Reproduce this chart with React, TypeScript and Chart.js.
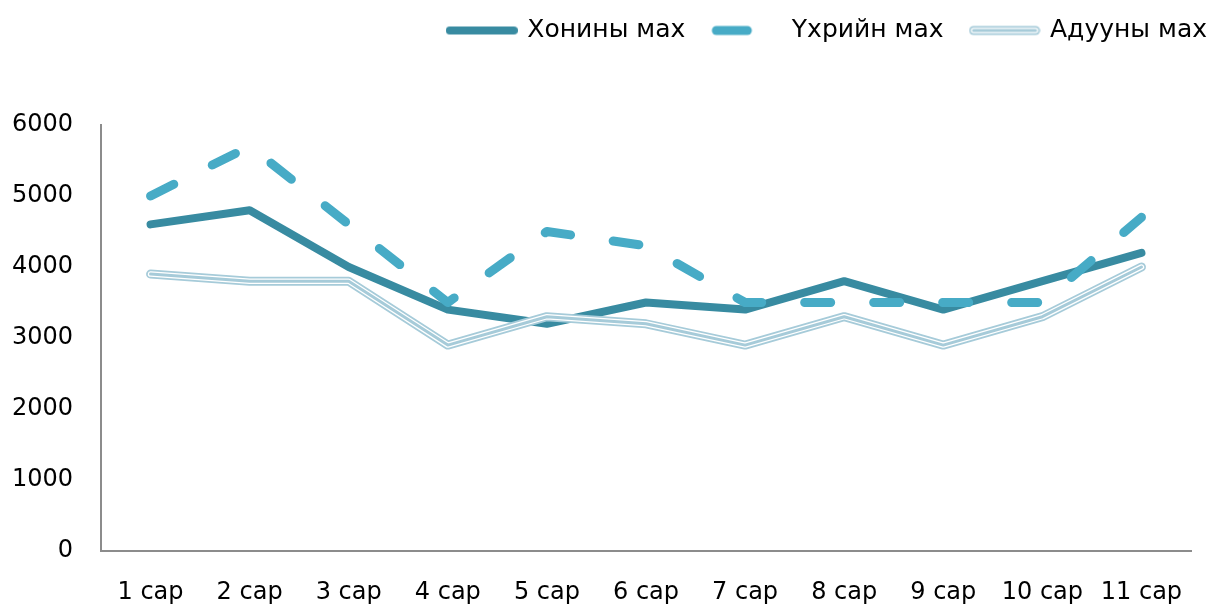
import React, { useEffect, useRef } from 'react';
import { Chart, registerables } from 'chart.js';

Chart.register(...registerables);

const categories = ['1 сар', '2 сар', '3 сар', '4 сар', '5 сар', '6 сар', '7 сар', '8 сар', '9 сар', '10 сар', '11 сар'];
const seriesNames = ['Хонины мах', 'Үхрийн мах', 'Адууны мах'];
const khoninValues = [4600, 4800, 4000, 3400, 3200, 3500, 3400, 3800, 3400, 3800, 4200];
const ukhriinValues = [5000, 5700, 4600, 3500, 4500, 4300, 3500, 3500, 3500, 3500, 4700];
const aduunValues = [3900, 3800, 3800, 2900, 3300, 3200, 2900, 3300, 2900, 3300, 4000];
const yMin = 0;
const yMax = 6000;
const yStep = 1000;

const DARK = '#388ba1';
const MID = '#47abc6';
const LIGHT = '#a6cbd9';
const AXIS = '#8c8c8c';
const FONT = 'DejaVu Sans';

function makeSample(kind: string): HTMLCanvasElement {
  const c = document.createElement('canvas');
  c.width = 72;
  c.height = 12;
  const ctx = c.getContext('2d')!;
  ctx.lineCap = 'round';
  const y = 6;
  if (kind === 'solid') {
    ctx.strokeStyle = DARK;
    ctx.lineWidth = 8;
    ctx.beginPath(); ctx.moveTo(4, y); ctx.lineTo(68, y); ctx.stroke();
  } else if (kind === 'dash') {
    ctx.strokeStyle = MID;
    ctx.lineWidth = 9;
    ctx.beginPath(); ctx.moveTo(6, y); ctx.lineTo(37, y); ctx.stroke();
  } else {
    ctx.strokeStyle = LIGHT;
    ctx.lineWidth = 9;
    ctx.beginPath(); ctx.moveTo(5, y); ctx.lineTo(67, y); ctx.stroke();
    ctx.strokeStyle = '#ffffff';
    ctx.lineWidth = 5.5;
    ctx.beginPath(); ctx.moveTo(5, y); ctx.lineTo(67, y); ctx.stroke();
    ctx.strokeStyle = LIGHT;
    ctx.lineWidth = 3;
    ctx.beginPath(); ctx.moveTo(5, y); ctx.lineTo(67, y); ctx.stroke();
  }
  return c;
}

export default function App() {
  const ref = useRef<HTMLCanvasElement | null>(null);

  useEffect(() => {
    document.body.style.margin = '0';
    const samples = [makeSample('solid'), makeSample('dash'), makeSample('double')];

    const layoutPlugin = {
      id: 'layoutTweak',
      beforeUpdate(chart: any) {
        const legend = chart.legend;
        if (legend && !legend.__patched) {
          const orig = legend.fit.bind(legend);
          legend.fit = () => {
            orig();
            legend.height = 125;
          };
          legend.__patched = true;
        }
      },
      afterLayout(chart: any) {
        const legend = chart.legend;
        if (legend) {
          legend.top -= 10;
          legend.bottom -= 10;
          legend.left += 44;
          legend.right += 44;
        }
      },
    };

    const common = {
      tension: 0,
      pointRadius: 0,
      pointHoverRadius: 0,
      fill: false,
      borderCapStyle: 'round',
      borderJoinStyle: 'round',
    };

    const chart = new Chart(ref.current!, {
      type: 'line',
      data: {
        labels: categories,
        datasets: [
          { ...common, label: seriesNames[0], data: khoninValues, borderColor: DARK, backgroundColor: DARK, borderWidth: 8, order: 5 },
          { ...common, label: seriesNames[1], data: ukhriinValues, borderColor: MID, backgroundColor: MID, borderWidth: 9, borderDash: [26, 43], order: 4 },
          { ...common, label: seriesNames[2], data: aduunValues, borderColor: LIGHT, backgroundColor: LIGHT, borderWidth: 9, order: 3 },
          { ...common, label: 'inner-white', data: aduunValues, borderColor: '#ffffff', borderWidth: 5.5, order: 2 },
          { ...common, label: 'inner-center', data: aduunValues, borderColor: LIGHT, borderWidth: 3, order: 1 },
        ] as any,
      },
      options: {
        animation: false,
        responsive: true,
        maintainAspectRatio: false,
        layout: { padding: { left: 0, right: 21, top: 0, bottom: 0 } },
        plugins: {
          tooltip: { enabled: false },
          legend: {
            display: true,
            position: 'top',
            align: 'end',
            labels: {
              color: '#000000',
              font: { family: FONT, size: 25 },
              usePointStyle: true,
              pointStyleWidth: 66,
              boxHeight: 12,
              padding: 28,
              filter: (item: any) => item.datasetIndex < 3,
              sort: (a: any, b: any) => a.datasetIndex - b.datasetIndex,
              generateLabels: (ch: any) => {
                const items = (Chart.defaults.plugins.legend.labels as any).generateLabels(ch);
                return items.map((it: any) => ({
                  ...it,
                  pointStyle: it.datasetIndex < 3 ? samples[it.datasetIndex] : it.pointStyle,
                  lineWidth: 0,
                }));
              },
            },
          },
        },
        scales: {
          x: {
            offset: true,
            grid: { display: false, drawTicks: false },
            border: { display: true, color: AXIS, width: 2 },
            ticks: { color: '#000000', font: { family: FONT, size: 24 }, padding: 27, maxRotation: 0, autoSkip: false },
            afterFit: (s: any) => { s.height = 54; },
          },
          y: {
            min: yMin,
            max: yMax,
            grid: { display: false, drawTicks: false },
            border: { display: true, color: AXIS, width: 2 },
            ticks: {
              stepSize: yStep,
              color: '#000000',
              font: { family: FONT, size: 24 },
              padding: 28,
              callback: (v: any) => String(v),
            },
            afterFit: (s: any) => { s.width = 101; },
          },
        },
      } as any,
      plugins: [layoutPlugin],
    });
    return () => chart.destroy();
  }, []);

  return (
    <div style={{ width: 1212, height: 605, position: 'relative' }}>
      <canvas ref={ref} />
    </div>
  );
}
